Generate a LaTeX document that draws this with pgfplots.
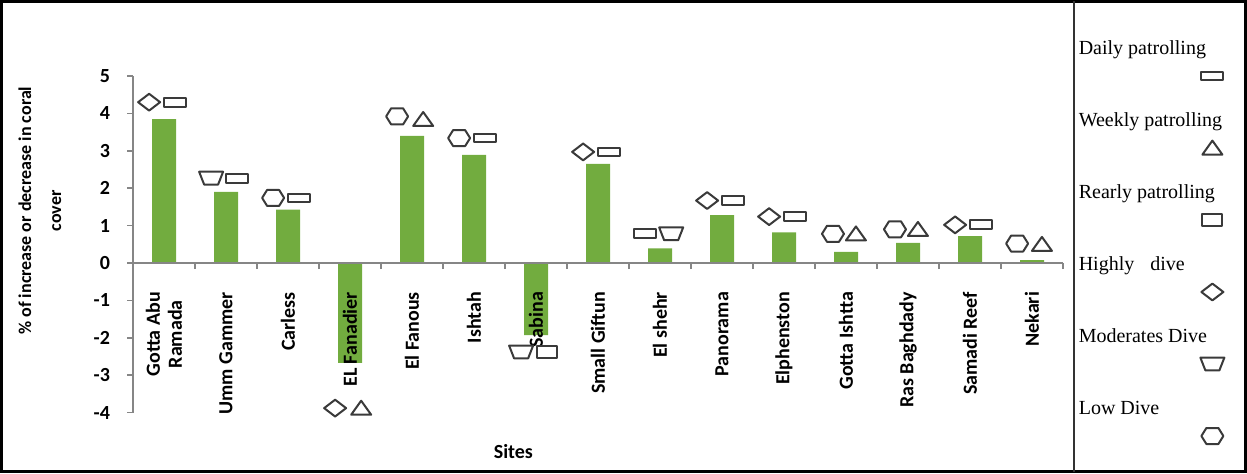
\documentclass[border=0pt]{standalone}
\usepackage{fontspec}
\setmainfont{Carlito}
\newfontfamily\tnr{Liberation Serif}
\usepackage{pgfplots}
\pgfplotsset{compat=1.18}

\definecolor{bargreen}{RGB}{114,172,63}
\definecolor{markgray}{RGB}{58,58,58}
\definecolor{axgray}{RGB}{134,134,134}

% hollow marks as in the original
\pgfdeclareplotmark{dailyrect}{%
  \begin{pgfscope}\pgfsetcornersarced{\pgfqpoint{2pt}{2pt}}%
  \pgfpathrectangle{\pgfqpoint{-5.5pt}{-2.2pt}}{\pgfqpoint{11pt}{4.4pt}}%
  \pgfusepathqfillstroke\end{pgfscope}}
\pgfdeclareplotmark{rearlyrect}{%
  \begin{pgfscope}\pgfsetcornersarced{\pgfqpoint{1.8pt}{1.8pt}}%
  \pgfpathrectangle{\pgfqpoint{-5pt}{-2.8pt}}{\pgfqpoint{10pt}{5.6pt}}%
  \pgfusepathqfillstroke\end{pgfscope}}
\pgfdeclareplotmark{hexa}{%
  \pgfpathmoveto{\pgfqpoint{-5.5pt}{0pt}}\pgfpathlineto{\pgfqpoint{-3pt}{4pt}}%
  \pgfpathlineto{\pgfqpoint{3pt}{4pt}}\pgfpathlineto{\pgfqpoint{5.5pt}{0pt}}%
  \pgfpathlineto{\pgfqpoint{3pt}{-4pt}}\pgfpathlineto{\pgfqpoint{-3pt}{-4pt}}%
  \pgfpathclose\pgfusepathqfillstroke}
\pgfdeclareplotmark{trap}{%
  \pgfpathmoveto{\pgfqpoint{-6pt}{3.2pt}}\pgfpathlineto{\pgfqpoint{6pt}{3.2pt}}%
  \pgfpathlineto{\pgfqpoint{3.5pt}{-3.2pt}}\pgfpathlineto{\pgfqpoint{-3.5pt}{-3.2pt}}%
  \pgfpathclose\pgfusepathqfillstroke}
\pgfdeclareplotmark{diam}{%
  \pgfpathmoveto{\pgfqpoint{-5.5pt}{0pt}}\pgfpathlineto{\pgfqpoint{0pt}{4.2pt}}%
  \pgfpathlineto{\pgfqpoint{5.5pt}{0pt}}\pgfpathlineto{\pgfqpoint{0pt}{-4.2pt}}%
  \pgfpathclose\pgfusepathqfillstroke}
\pgfdeclareplotmark{tri}{%
  \pgfpathmoveto{\pgfqpoint{-5pt}{-3.3pt}}\pgfpathlineto{\pgfqpoint{5pt}{-3.3pt}}%
  \pgfpathlineto{\pgfqpoint{0pt}{3.7pt}}%
  \pgfpathclose\pgfusepathqfillstroke}

\pgfplotsset{
  sym/.style={only marks, mark=#1,
    mark options={draw=markgray, fill=white, line width=1pt, line join=round}},
}

\begin{document}
\begin{tikzpicture}
\begin{axis}[
  at={(66.5pt,30.2pt)}, anchor=south west,
  scale only axis, width=465pt, height=168.3pt,
  xmin=0.5, xmax=15.5, ymin=-4, ymax=5,
  enlargelimits=false, clip=false, axis on top,
  axis x line*=middle, axis y line*=left,
  axis line style={axgray, -, line width=0.8pt},
  hide obscured x ticks=false, hide obscured y ticks=false,
  ytick={-4,-3,...,5},
  xtick={1,...,15},
  xticklabels={{Gotta Abu\\Ramada},Umm Gammer,Carless,EL Fanadier,El Fanous,Ishtah,Sabina,Small Giftun,El shehr,Panorama,Elphenston,Gotta Ishtta,Ras Baghdady,Samadi Reef,Nekari},
  minor xtick={1.5,2.5,...,15.5},
  major x tick style={draw=none},
  minor x tick style={axgray, line width=0.8pt},
  y tick style={axgray, line width=0.8pt},
  tick align=outside,
  major tick length=3pt, minor tick length=3pt,
  xticklabel style={rotate=90, anchor=east, align=center, font=\bfseries\fontsize{10}{11}\selectfont},
  xticklabel shift=8pt,
  yticklabel style={font=\bfseries\fontsize{10}{12}\selectfont},
  yticklabel shift=5pt,
  /pgf/number format/assume math mode=true,
  ylabel={\% of increase or decrease in coral\\cover},
  ylabel style={align=center, font=\bfseries\fontsize{9}{15}\selectfont,
    at={(axis description cs:-0.1,0.6)}, anchor=center},
  xlabel={Sites},
  xlabel style={font=\bfseries\fontsize{10}{12}\selectfont,
    at={(axis description cs:0.409,-0.117)}, anchor=center},
  legend style={at={(1.0161,1.107)}, anchor=north west, draw=none, fill=none,
    inner sep=0pt, outer sep=0pt, row sep=27pt,
    font=\tnr\fontsize{10}{12}\selectfont,
    nodes={inner sep=0pt, text height=7pt, text depth=2pt}},
  legend cell align=left,
  legend image code/.code={\path (0pt,0pt);\draw[overlay,#1] plot coordinates {(67pt,-13.5pt)};},
]
% bars
\addplot[ybar, bar width=12pt, fill=bargreen, draw=none, forget plot] coordinates {
  (1,3.85) (2,1.90) (3,1.43) (4,-2.67) (5,3.40) (6,2.89) (7,-1.93) (8,2.65)
  (9,0.39) (10,1.28) (11,0.82) (12,0.30) (13,0.54) (14,0.72) (15,0.08)
};
% Daily patrolling
\addplot[sym=dailyrect] coordinates {
  (1.18,4.30) (2.18,2.27) (3.18,1.74) (6.18,3.34) (8.18,2.97) (8.76,0.78)
  (10.18,1.67) (11.18,1.24) (14.18,1.02)
};
% Weekly patrolling
\addplot[sym=tri] coordinates {
  (4.18,-3.88) (5.18,3.84) (12.16,0.78) (13.16,0.90) (15.16,0.50)
};
% Rearly patrolling
\addplot[sym=rearlyrect] coordinates {(7.18,-2.38)};
% Highly dive
\addplot[sym=diam] coordinates {
  (0.76,4.30) (3.76,-3.88) (7.76,2.97) (9.76,1.67) (10.76,1.24) (13.76,1.02)
};
% Moderates dive
\addplot[sym=trap] coordinates {(1.76,2.27) (6.76,-2.38) (9.18,0.78)};
% Low dive
\addplot[sym=hexa] coordinates {
  (2.76,1.74) (4.76,3.92) (5.76,3.34) (11.79,0.78) (12.79,0.90) (14.76,0.52)
};
\legend{Daily patrolling, Weekly patrolling, Rearly patrolling, Highly\hspace{8pt}dive, Moderates Dive, Low Dive}
\end{axis}
\draw[line width=1.4pt] (0.7pt,0.7pt) rectangle (622.8pt,235.8pt);
\draw[line width=1.1pt, black!80] (536.8pt,0.7pt) -- (536.8pt,235.8pt);
\pgfresetboundingbox
\path (0pt,0pt) rectangle (623.5pt,236.5pt);
\end{tikzpicture}
\end{document}
